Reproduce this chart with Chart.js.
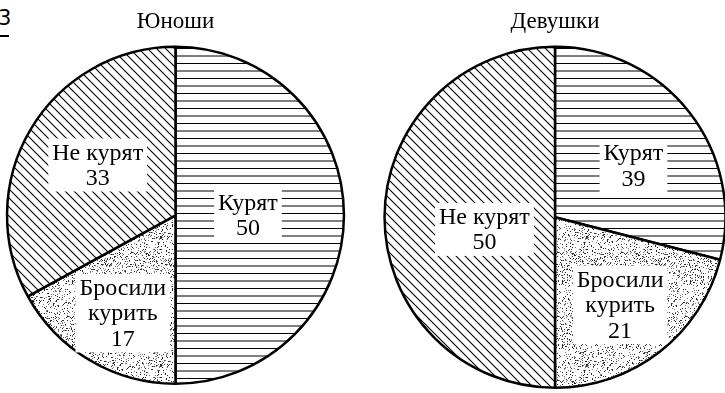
<!DOCTYPE html>
<html>
<head>
<meta charset="utf-8">
<script src="https://cdn.jsdelivr.net/npm/chart.js@4.4.0/dist/chart.umd.min.js"></script>
<style>
  html, body { margin: 0; padding: 0; background: #fff; }
  body { width: 725px; height: 393px; overflow: hidden; position: relative; }
  #c1 { position: absolute; left: 0; top: 0; }
  #c2 { position: absolute; left: 362px; top: 0; }
  #frag { position: absolute; left: -2px; top: 6px; font: 21px "DejaVu Sans", sans-serif; color: #000; }
  #fragline { position: absolute; left: 0; top: 35px; width: 9px; height: 2px; background: #000; }
</style>
</head>
<body>
<div id="frag">3</div>
<div id="fragline"></div>
<canvas id="c1" width="362" height="393"></canvas>
<canvas id="c2" width="386" height="393"></canvas>
<script>
// ---- Data ----
const categories = ['Курят', ['Бросили', 'курить'], 'Не курят'];
const chartTitles = ['Юноши', 'Девушки'];
// Boys: slice shares as drawn and printed
const boysValues = [50, 17, 33];
const boysPrinted = [50, 17, 33];
// Girls: slice shares as drawn in the picture (angles), and numbers printed on it
const girlsValues = [29, 21, 50];
const girlsPrinted = [39, 21, 50];

const serif = '"Liberation Serif", serif';

// ---- Fill patterns ----
function makeTile(w, h, draw) {
  const c = document.createElement('canvas');
  c.width = w; c.height = h;
  const x = c.getContext('2d');
  x.fillStyle = '#fff';
  x.fillRect(0, 0, w, h);
  draw(x, w, h);
  return document.createElement('canvas').getContext('2d').createPattern(c, 'repeat');
}
const hLines = makeTile(8, 15, (x, w, h) => {
  x.strokeStyle = '#000'; x.lineWidth = 1.1;
  x.beginPath();
  x.moveTo(0, 3.5); x.lineTo(w, 3.5);
  x.moveTo(0, 11); x.lineTo(w, 11);
  x.stroke();
});
const dLines = makeTile(9, 9, (x, w, h) => {
  x.strokeStyle = '#000'; x.lineWidth = 1.1;
  x.beginPath();
  x.moveTo(-1, -1); x.lineTo(w + 1, h + 1);
  x.moveTo(-1, h - 1); x.lineTo(1, h + 1);
  x.moveTo(w - 1, -1); x.lineTo(w + 1, 1);
  x.stroke();
});
const dots = makeTile(64, 64, (x, w, h) => {
  const img = x.getImageData(0, 0, w, h);
  let s = 12345;
  for (let i = 0; i < w * h; i++) {
    s = (s * 1103515245 + 12345) & 0x7fffffff;
    const r = (s >> 8) % 1000;
    if (r < 170) {
      const v = r < 90 ? 40 : 120;
      img.data[i * 4] = v; img.data[i * 4 + 1] = v; img.data[i * 4 + 2] = v;
    }
  }
  x.putImageData(img, 0, 0);
});
const sliceFills = [hLines, dots, dLines];

// ---- Label plugin ----
const labelPlugin = {
  id: 'sliceLabels',
  afterDatasetsDraw(chart, args, opts) {
    const ctx = chart.ctx;
    const meta = chart.getDatasetMeta(0);
    const lh = 25.5;
    ctx.save();
    ctx.font = Chart.helpers.toFont({ family: serif, size: 24, weight: 'normal' }).string;
    ctx.textAlign = 'center';
    ctx.textBaseline = 'middle';
    meta.data.forEach((arc, i) => {
      const p = arc.getProps(['x', 'y', 'startAngle', 'endAngle', 'outerRadius'], true);
      const mid = (p.startAngle + p.endAngle) / 2 + (opts.angleShift[i] || 0);
      const cx = p.x + Math.cos(mid) * opts.radial[i] * p.outerRadius;
      const cy = p.y + Math.sin(mid) * opts.radial[i] * p.outerRadius;
      const cat = chart.data.labels[i];
      const lines = (Array.isArray(cat) ? cat.slice() : [cat]);
      lines.push(String(opts.printed[i]));
      let wMax = 0;
      lines.forEach(t => { wMax = Math.max(wMax, ctx.measureText(t).width); });
      const bw = wMax + 8, bh = lines.length * lh + 2;
      ctx.fillStyle = '#fff';
      ctx.fillRect(cx - bw / 2, cy - bh / 2, bw, bh);
      ctx.fillStyle = '#000';
      lines.forEach((t, k) => {
        ctx.fillText(t, cx, cy - bh / 2 + 1 + lh * (k + 0.5) + 1);
      });
    });
    ctx.restore();
  }
};

function makePie(id, title, values, printed, padding, radial, angleShift) {
  return new Chart(document.getElementById(id), {
    type: 'pie',
    data: {
      labels: categories,
      datasets: [{
        data: values,
        backgroundColor: sliceFills,
        borderColor: '#000',
        borderWidth: 2.5,
        hoverOffset: 0
      }]
    },
    options: {
      responsive: false,
      animation: false,
      events: [],
      layout: { padding: padding },
      plugins: {
        legend: { display: false },
        tooltip: { enabled: false },
        title: {
          display: true,
          text: title,
          color: '#000',
          font: { family: serif, size: 23, weight: 'normal', lineHeight: 1.2 },
          padding: { top: 8, bottom: 10 }
        },
        sliceLabels: { printed: printed, radial: radial, angleShift: angleShift }
      }
    },
    plugins: [labelPlugin]
  });
}

makePie('c1', chartTitles[0], boysValues, boysPrinted,
  { left: 0, right: 11, top: 0, bottom: 8 }, [0.43, 0.66, 0.55], [0, -0.04, 0.04]);
makePie('c2', chartTitles[1], girlsValues, girlsPrinted,
  { left: 20, right: 20, top: 0, bottom: 4 }, [0.55, 0.64, 0.42], [0.08, 0.02, -0.17]);
</script>
</body>
</html>
